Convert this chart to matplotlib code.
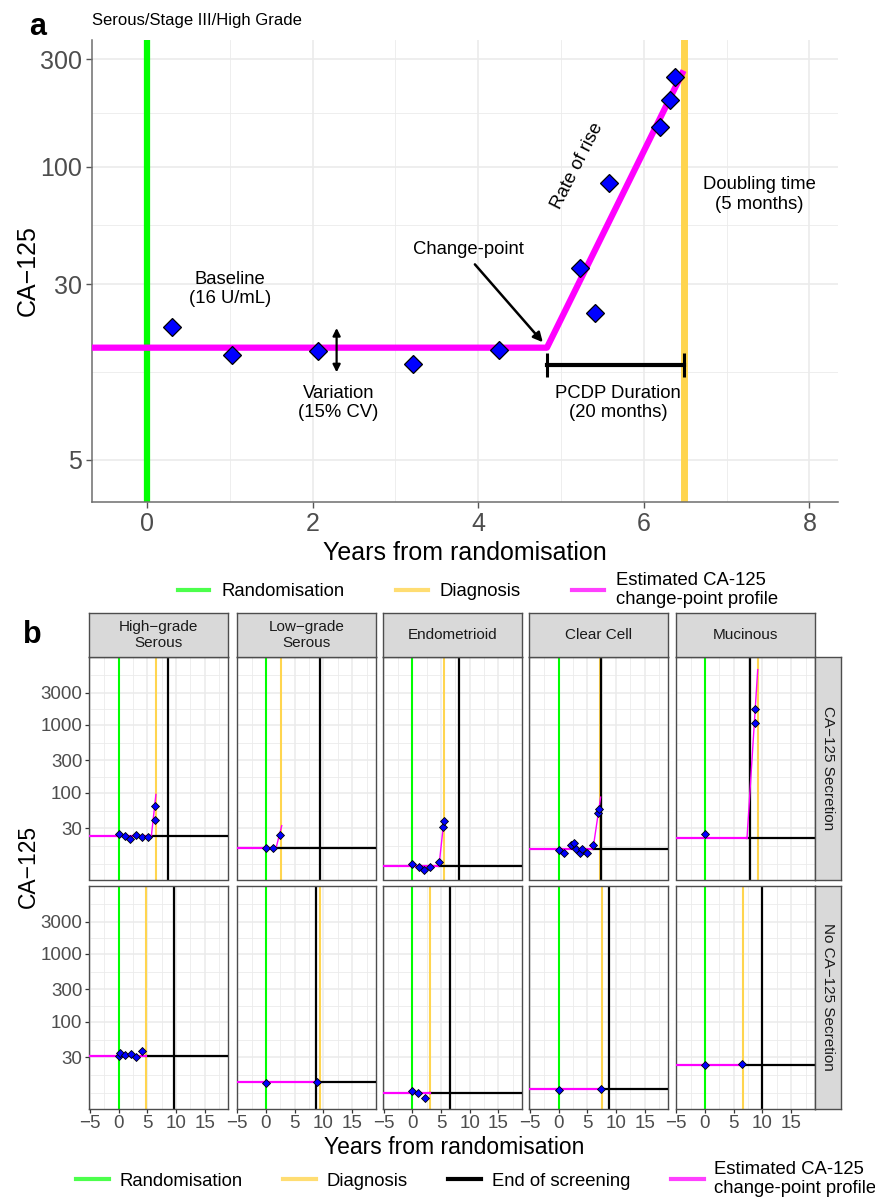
import numpy as np
import matplotlib.pyplot as plt
from matplotlib.lines import Line2D

plt.rcParams['font.family'] = ['Liberation Sans', 'DejaVu Sans']

W, H = 875, 1198

GREEN = '#00FF00'
YELLOW = '#FFD54F'
MAGENTA = '#FF00FF'
BLUE = '#0000FF'
GRID = '#EBEBEB'
TICKCOL = '#4D4D4D'

# ---------------- panel a: single patient ----------------
a_years = [0.30, 1.03, 2.07, 3.21, 4.25, 5.23, 5.41, 5.58, 6.20, 6.32, 6.38]
a_ca125 = [19.3, 14.5, 15.2, 13.3, 15.4, 35.3, 22.4, 84.9, 150, 197, 251]
a_baseline = 15.7
a_changepoint = 4.83
a_peak_year = 6.48
a_peak_ca125 = 267
a_randomisation = 0.0
a_diagnosis = 6.49
a_xticks = [0, 2, 4, 6, 8]
a_yticks = [5, 30, 100, 300]

# ---------------- panel b: facets ----------------
histology = ['High\u2212grade\nSerous', 'Low\u2212grade\nSerous', 'Endometrioid', 'Clear Cell', 'Mucinous']
secretion = ['CA\u2212125 Secretion', 'No CA\u2212125 Secretion']

# row 1: CA-125 secretion (change-point profile)
sec_years = [
    [0, 1.05, 2.0, 3.1, 4.1, 5.05, 6.27, 6.4],
    [0, 1.17, 2.49],
    [0, 1.16, 2.1, 3.14, 4.58, 5.33, 5.45],
    [0, 0.93, 2.21, 2.73, 3.08, 3.66, 4.05, 4.93, 5.98, 6.85, 7.03],
    [0, 8.71, 8.71],
]
sec_values = [
    [24.9, 23.0, 20.8, 23.7, 22.7, 22.7, 40.1, 64.7],
    [15.4, 15.5, 24.3],
    [9.1, 8.0, 7.4, 8.05, 9.5, 31.4, 38.8],
    [14.6, 12.9, 17.1, 18.4, 15.1, 13.0, 15.1, 13.0, 17.2, 49.9, 58.5],
    [24.9, 1074, 1698],
]
sec_baseline = [23.0, 15.4, 8.3, 15.1, 22.0]
sec_changepoint = [5.7, 1.75, 4.64, 6.0, 7.32]
sec_peak_year = [6.5, 2.74, 5.51, 7.32, 9.18]
sec_peak_value = [94.8, 32.8, 39.7, 86.5, 6520]
sec_diagnosis = [6.45, 2.67, 5.57, 7.28, 9.23]
sec_end_screen = [8.6, 9.41, 8.06, 7.45, 7.84]

# row 2: no CA-125 secretion (flat profile)
nosec_years = [
    [0, 0.21, 1.2, 2.13, 3.05, 4.16],
    [0, 8.94],
    [0, 1.05, 2.14],
    [0, 7.42],
    [0, 6.39],
]
nosec_values = [
    [31.0, 34.3, 32.5, 33.2, 30.4, 37.2],
    [12.6, 13.0],
    [9.5, 9.0, 7.5],
    [9.95, 10.1],
    [23.5, 24.0],
]
nosec_baseline = [31.8, 12.9, 9.0, 10.2, 23.0]
nosec_profile_end = [4.74, 8.94, 3.14, 7.42, 6.45]
nosec_diagnosis = [4.74, 9.35, 3.14, 7.54, 6.57]
nosec_end_screen = [9.62, 8.71, 6.62, 8.76, 9.93]

b_xticks = [-5, 0, 5, 10, 15]
b_yticks = [30, 100, 300, 1000, 3000]


def px_box(left, top, width, height):
    return [left / W, 1 - (top + height) / H, width / W, height / H]


def log_minor(breaks, extend_low=False, extend_high=False):
    # ggplot-style minor breaks: midway between majors in log space
    lb = list(np.log10(breaks))
    step = lb[1] - lb[0]
    if extend_low:
        lb = [lb[0] - step] + lb
    if extend_high:
        lb = lb + [lb[-1] + step]
    mids = [(p + q) / 2 for p, q in zip(lb[:-1], lb[1:])]
    extra = [p for p in lb if 10 ** p not in breaks]
    return [10 ** m for m in mids + extra]


fig = plt.figure(figsize=(W / 100, H / 100), dpi=100)

# ======================= panel a =======================
ax = fig.add_axes(px_box(92, 40, 746, 462))
ax.set_yscale('log')
ax.set_xlim(-0.664, 8.345)
ax.set_ylim(3.24, 365)
ax.set_xticks(a_xticks, labels=[str(t) for t in a_xticks])
ax.set_xticks([1, 3, 5, 7], minor=True)
ax.set_yticks(a_yticks, labels=[str(t) for t in a_yticks])
ax.set_yticks(log_minor(a_yticks), minor=True)
ax.set_yticklabels([], minor=True)
ax.set_axisbelow(True)
ax.grid(which='major', color=GRID, lw=1.2)
ax.grid(which='minor', color=GRID, lw=0.6)
ax.tick_params(which='major', labelsize=18, labelcolor=TICKCOL, color='#555555', length=4, width=1.0)
ax.tick_params(which='minor', length=0)
for s in ['top', 'right']:
    ax.spines[s].set_visible(False)
for s in ['left', 'bottom']:
    ax.spines[s].set_color('#6E6E6E')
    ax.spines[s].set_linewidth(1.1)

ax.axvline(a_randomisation, color=GREEN, lw=4.5, zorder=2)
ax.axvline(a_diagnosis, color=YELLOW, lw=5, zorder=2)
ax.plot([-1, a_changepoint, a_peak_year], [a_baseline, a_baseline, a_peak_ca125],
        color=MAGENTA, lw=4.5, solid_capstyle='butt', zorder=3)

# annotations
ax.annotate('', xy=(4.78, 16.6), xytext=(3.96, 36.8),
            arrowprops=dict(arrowstyle='-|>', color='black', lw=1.8, mutation_scale=14,
                            shrinkA=0, shrinkB=0), zorder=4)
ax.annotate('', xy=(2.29, 19.2), xytext=(2.29, 12.2),
            arrowprops=dict(arrowstyle='<|-|>', color='black', lw=1.6, mutation_scale=11,
                            shrinkA=0, shrinkB=0), zorder=4)
ax.plot([a_changepoint, a_diagnosis], [13.2, 13.2], color='black', lw=3, zorder=4)
ax.vlines([a_changepoint, a_diagnosis], 11.6, 14.9, color='black', lw=2.2, zorder=4)

ax.plot(a_years, a_ca125, ls='none', marker='D', ms=9.3, mfc=BLUE, mec='black', mew=0.9, zorder=5)

tkw = dict(fontsize=13.3, ha='center', va='center', linespacing=1.2, color='black')
ax.text(1.0, 28.6, 'Baseline\n(16 U/mL)', **tkw)
ax.text(2.31, 8.93, 'Variation\n(15% CV)', **tkw)
ax.text(5.69, 8.93, 'PCDP Duration\n(20 months)', **tkw)
ax.text(7.40, 75.4, 'Doubling time\n(5 months)', **tkw)
ax.text(3.88, 42.7, 'Change-point', **tkw)
ax.text(5.20, 100.7, 'Rate of rise', rotation=63, rotation_mode='anchor', **tkw)

fig.text(92 / W, 1 - 21 / H, 'Serous/Stage III/High Grade', fontsize=12, ha='left', va='center')
fig.text(38 / W, 1 - 27 / H, 'a', fontsize=22, fontweight='bold', ha='center', va='center')
fig.text(465 / W, 1 - 553 / H, 'Years from randomisation', fontsize=18, ha='center', va='center')
fig.text(28 / W, 1 - 271 / H, 'CA\u2212125', fontsize=18, rotation=90, ha='center', va='center')

leg_a = [Line2D([], [], color=GREEN, lw=3, alpha=0.7),
         Line2D([], [], color=YELLOW, lw=3, alpha=0.8),
         Line2D([], [], color=MAGENTA, lw=3, alpha=0.75)]
fig.legend(leg_a, ['Randomisation', 'Diagnosis', 'Estimated CA-125\nchange-point profile'],
           loc='center', bbox_to_anchor=(478 / W, 1 - 590 / H), ncol=3, frameon=False,
           fontsize=13.3, handlelength=1.7, handletextpad=0.65, columnspacing=2.8,
           labelspacing=0.2)

# ======================= panel b =======================
col_left = [89.3, 236.7, 383.0, 529.3, 675.7]
row_top = [657, 886]
pw, ph = 139, 222.5

for r in range(2):
    for c in range(5):
        bx = fig.add_axes(px_box(col_left[c], row_top[r], pw, ph))
        bx.set_yscale('log')
        bx.set_xlim(-5.1, 19.1)
        bx.set_ylim(5.3, 9100)
        bx.set_xticks(b_xticks, labels=[f'{t:d}'.replace('-', '\u2212') for t in b_xticks])
        bx.set_xticks([-2.5, 2.5, 7.5, 12.5, 17.5], minor=True)
        bx.set_yticks(b_yticks, labels=[str(t) for t in b_yticks])
        bx.set_yticks(log_minor(b_yticks, True, True), minor=True)
        bx.set_yticklabels([], minor=True)
        bx.set_axisbelow(True)
        bx.grid(which='major', color=GRID, lw=1.1)
        bx.grid(which='minor', color=GRID, lw=0.6)
        bx.tick_params(which='major', labelsize=13.5, labelcolor=TICKCOL, color='#333333',
                       length=3, width=0.9, pad=2)
        bx.tick_params(which='minor', length=0)
        bx.tick_params(labelleft=(c == 0), left=(c == 0), labelbottom=(r == 1), bottom=(r == 1))
        for s in bx.spines.values():
            s.set_color('#4D4D4D')
            s.set_linewidth(1.0)

        if r == 0:
            yrs, vals = sec_years[c], sec_values[c]
            base, cp = sec_baseline[c], sec_changepoint[c]
            diag, endsc = sec_diagnosis[c], sec_end_screen[c]
            bx.axvline(0, color=GREEN, lw=1.5, zorder=2)
            bx.axvline(diag, color=YELLOW, lw=1.5, zorder=2)
            bx.axvline(endsc, color='black', lw=1.6, zorder=2)
            bx.plot([cp, 30], [base, base], color='black', lw=1.6, zorder=3)
            bx.plot([-10, cp], [base, base], color=MAGENTA, lw=1.6, zorder=3)
            bx.plot([cp, sec_peak_year[c]], [base, sec_peak_value[c]], color=MAGENTA, lw=1.0, zorder=3)
        else:
            yrs, vals = nosec_years[c], nosec_values[c]
            base, pend = nosec_baseline[c], nosec_profile_end[c]
            diag, endsc = nosec_diagnosis[c], nosec_end_screen[c]
            bx.axvline(0, color=GREEN, lw=1.5, zorder=2)
            bx.axvline(diag, color=YELLOW, lw=1.5, zorder=2)
            bx.axvline(endsc, color='black', lw=1.6, zorder=2)
            bx.plot([pend, 30], [base, base], color='black', lw=1.6, zorder=3)
            bx.plot([-10, pend], [base, base], color=MAGENTA, lw=1.6, zorder=3)
        bx.plot(yrs, vals, ls='none', marker='D', ms=3.6, mfc=BLUE, mec='black', mew=0.6, zorder=5)

# strips
for c in range(5):
    sx = fig.add_axes(px_box(col_left[c], 613, pw, 44))
    sx.set_facecolor('#D9D9D9')
    sx.set_xticks([])
    sx.set_yticks([])
    for s in sx.spines.values():
        s.set_color('#4D4D4D')
        s.set_linewidth(1.0)
    sx.text(0.5, 0.5, histology[c], transform=sx.transAxes, ha='center', va='center',
            fontsize=11, color='#1A1A1A', linespacing=1.25)
for r in range(2):
    sx = fig.add_axes(px_box(815, row_top[r], 26, ph))
    sx.set_facecolor('#D9D9D9')
    sx.set_xticks([])
    sx.set_yticks([])
    for s in sx.spines.values():
        s.set_color('#4D4D4D')
        s.set_linewidth(1.0)
    sx.text(0.5, 0.5, secretion[r], transform=sx.transAxes, ha='center', va='center',
            fontsize=11, color='#1A1A1A', rotation=-90)

fig.text(32 / W, 1 - 635 / H, 'b', fontsize=22, fontweight='bold', ha='center', va='center')
fig.text(454 / W, 1 - 1148 / H, 'Years from randomisation', fontsize=16.5, ha='center', va='center')
fig.text(28 / W, 1 - 866 / H, 'CA\u2212125', fontsize=16.5, rotation=90, ha='center', va='center')

leg_b = [Line2D([], [], color=GREEN, lw=3, alpha=0.7),
         Line2D([], [], color=YELLOW, lw=3, alpha=0.8),
         Line2D([], [], color='black', lw=3),
         Line2D([], [], color=MAGENTA, lw=3, alpha=0.75)]
fig.legend(leg_b, ['Randomisation', 'Diagnosis', 'End of screening',
                   'Estimated CA-125\nchange-point profile'],
           loc='center', bbox_to_anchor=(476 / W, 1 - 1179 / H), ncol=4, frameon=False,
           fontsize=13.3, handlelength=1.8, handletextpad=0.55, columnspacing=2.2)

fig.savefig('out.png', dpi=100)
